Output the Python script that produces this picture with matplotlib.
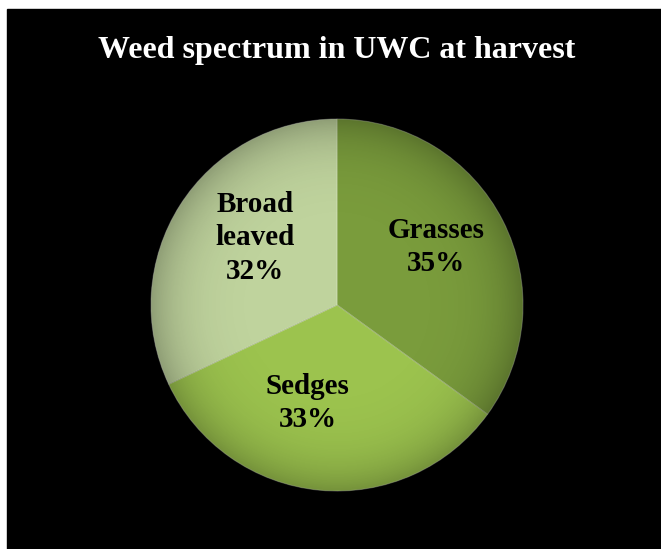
import matplotlib.pyplot as plt
import numpy as np
from matplotlib.patches import Rectangle, Circle

# weed groups and their share at harvest
names = ['Grasses', 'Sedges', 'Broad\nleaved']
shares = [35, 33, 32]
colors = ['#7a9c3c', '#9cc34e', '#bfd39d']

fig = plt.figure(figsize=(6.61, 5.49), dpi=100)
fig.patch.set_facecolor('white')
# black slide background with a thin white margin top and left
fig.patches.append(Rectangle((7 / 661, 0), 1 - 7 / 661, (549 - 9) / 549,
                             transform=fig.transFigure, color='black', zorder=-5))

fig.text(0.51, (549 - 58) / 549, 'Weed spectrum in UWC at harvest', ha='center',
         va='baseline', color='white', fontsize=23, fontweight='bold',
         family='Liberation Serif')

cx, cy, r = 337, 305, 186
ax = fig.add_axes([(cx - r) / 661, (549 - cy - r) / 549, 2 * r / 661, 2 * r / 549])
ax.set_facecolor('none')
wedges, _ = ax.pie(shares, colors=colors, startangle=90, counterclock=False,
                   radius=1, wedgeprops=dict(linewidth=0.8, edgecolor=(1, 1, 1, 0.25)))

# soft darkening toward the rim
g = np.linspace(-1, 1, 400)
X, Y = np.meshgrid(g, g)
R = np.sqrt(X ** 2 + Y ** 2)
shade = np.zeros((400, 400, 4))
shade[..., 3] = np.clip(R, 0, 1) ** 6 * 0.25
im = ax.imshow(shade, extent=(-1, 1, -1, 1), origin='lower', zorder=3)
im.set_clip_path(Circle((0, 0), 1, transform=ax.transData))

# labels inside each slice, nudged a little off the mid line
nudge = [(0.0, 0.04), (-0.10, 0.07), (0.065, 0.04)]
for w, name, s, (nx, ny) in zip(wedges, names, shares, nudge):
    mid = np.deg2rad((w.theta1 + w.theta2) / 2)
    ax.text(0.6 * np.cos(mid) + nx, 0.6 * np.sin(mid) + ny, '%s\n%d%%' % (name, s),
            ha='center', va='center', fontsize=21, fontweight='bold',
            family='Liberation Serif', color='black', linespacing=1.3, zorder=4)

ax.set_xlim(-1, 1)
ax.set_ylim(-1, 1)
ax.set_aspect('equal')
ax.axis('off')
fig.savefig('out.png', dpi=100)
